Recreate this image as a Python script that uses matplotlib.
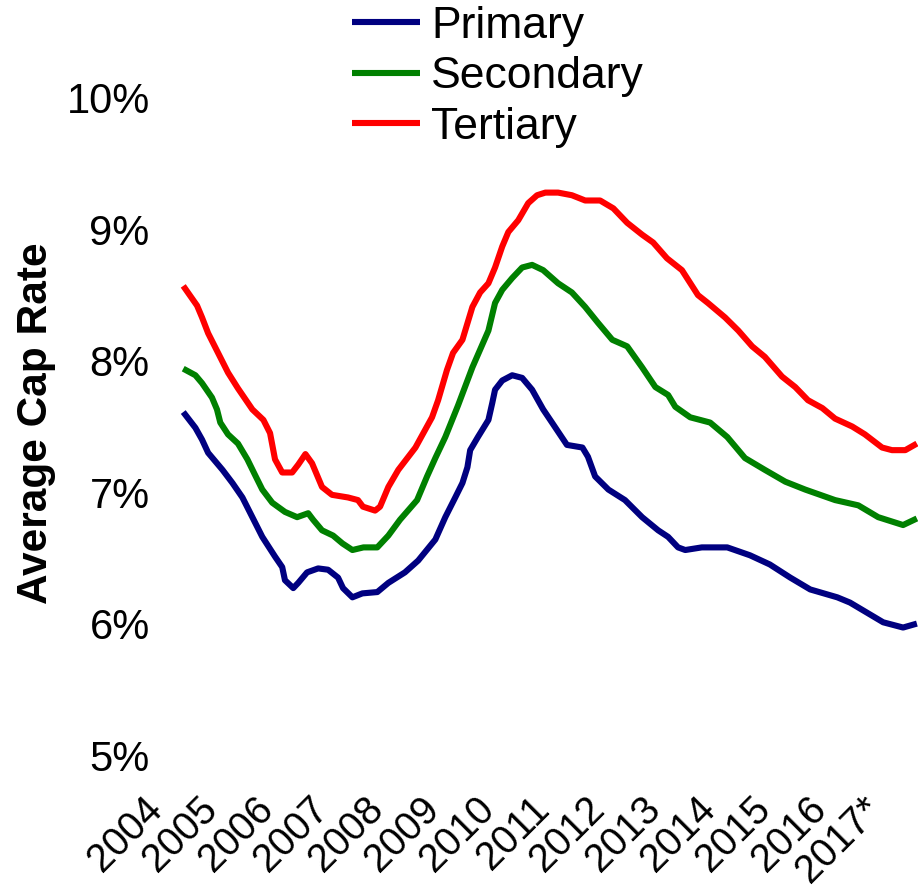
import matplotlib
matplotlib.use("Agg")
import matplotlib.pyplot as plt
from matplotlib.transforms import ScaledTranslation

plt.rcParams['font.family'] = ['Liberation Sans', 'DejaVu Sans']

# ---- data (fractional years, cap rate in %) ----
tertiary_t = [2004.33, 2004.58, 2004.67, 2004.78, 2004.96, 2005.14, 2005.32, 2005.58, 2005.78, 2005.90,
              2005.99, 2006.12, 2006.30, 2006.41, 2006.54, 2006.66, 2006.84, 2007.02, 2007.31, 2007.49,
              2007.58, 2007.80, 2007.89, 2008.04, 2008.22, 2008.53, 2008.83, 2008.94, 2009.10, 2009.21,
              2009.38, 2009.56, 2009.70, 2009.85, 2009.97, 2010.10, 2010.21, 2010.39, 2010.57, 2010.73,
              2010.88, 2011.11, 2011.36, 2011.60, 2011.87, 2012.11, 2012.36, 2012.63, 2012.83, 2013.08,
              2013.35, 2013.64, 2013.82, 2014.13, 2014.37, 2014.62, 2014.85, 2015.16, 2015.40, 2015.63,
              2015.89, 2016.12, 2016.43, 2016.66, 2016.97, 2017.15, 2017.39, 2017.60]
tertiary_v = [8.57, 8.42, 8.33, 8.21, 8.06, 7.91, 7.79, 7.63, 7.55, 7.45,
              7.25, 7.15, 7.15, 7.21, 7.29, 7.22, 7.04, 6.98, 6.96, 6.94,
              6.89, 6.86, 6.89, 7.04, 7.17, 7.34, 7.57, 7.70, 7.93, 8.06,
              8.16, 8.41, 8.52, 8.59, 8.71, 8.87, 8.98, 9.07, 9.20, 9.26,
              9.28, 9.28, 9.26, 9.22, 9.22, 9.16, 9.05, 8.96, 8.90, 8.78,
              8.69, 8.50, 8.44, 8.33, 8.23, 8.11, 8.03, 7.88, 7.80, 7.70,
              7.64, 7.56, 7.50, 7.44, 7.34, 7.32, 7.32, 7.37]

secondary_t = [2004.33, 2004.55, 2004.67, 2004.85, 2004.94, 2005.00, 2005.14, 2005.32, 2005.49, 2005.63,
               2005.76, 2005.94, 2006.17, 2006.39, 2006.59, 2006.68, 2006.84, 2007.04, 2007.21, 2007.39,
               2007.59, 2007.84, 2008.04, 2008.25, 2008.56, 2008.74, 2008.89, 2009.07, 2009.30, 2009.56,
               2009.85, 2009.97, 2010.10, 2010.28, 2010.46, 2010.64, 2010.84, 2011.11, 2011.36, 2011.60,
               2011.83, 2012.09, 2012.36, 2012.63, 2012.87, 2013.10, 2013.23, 2013.50, 2013.86, 2014.17,
               2014.49, 2014.85, 2015.22, 2015.58, 2016.12, 2016.54, 2016.90, 2017.35, 2017.60]
secondary_v = [7.94, 7.89, 7.83, 7.72, 7.63, 7.53, 7.44, 7.37, 7.25, 7.13,
               7.02, 6.92, 6.85, 6.81, 6.84, 6.79, 6.71, 6.67, 6.61, 6.56,
               6.58, 6.58, 6.67, 6.79, 6.94, 7.12, 7.26, 7.42, 7.66, 7.95,
               8.23, 8.44, 8.54, 8.63, 8.71, 8.73, 8.69, 8.59, 8.52, 8.41,
               8.29, 8.16, 8.11, 7.95, 7.80, 7.74, 7.65, 7.57, 7.53, 7.42,
               7.26, 7.17, 7.08, 7.02, 6.94, 6.90, 6.81, 6.75, 6.80]

primary_t = [2004.33, 2004.55, 2004.67, 2004.78, 2005.04, 2005.22, 2005.40, 2005.58, 2005.76, 2005.99,
             2006.12, 2006.17, 2006.32, 2006.41, 2006.57, 2006.77, 2006.95, 2007.13, 2007.22, 2007.39,
             2007.57, 2007.84, 2008.04, 2008.34, 2008.58, 2008.89, 2009.07, 2009.25, 2009.38, 2009.47,
             2009.52, 2009.66, 2009.85, 2009.92, 2009.97, 2010.10, 2010.28, 2010.46, 2010.64, 2010.84,
             2011.00, 2011.27, 2011.55, 2011.65, 2011.78, 2012.02, 2012.32, 2012.63, 2012.92, 2013.10,
             2013.28, 2013.41, 2013.71, 2013.95, 2014.17, 2014.58, 2014.94, 2015.31, 2015.67, 2016.16,
             2016.39, 2016.63, 2016.99, 2017.35, 2017.60]
primary_v = [7.61, 7.49, 7.40, 7.30, 7.17, 7.07, 6.96, 6.81, 6.66, 6.51,
             6.43, 6.33, 6.27, 6.31, 6.39, 6.42, 6.41, 6.35, 6.27, 6.20,
             6.23, 6.24, 6.31, 6.39, 6.48, 6.64, 6.81, 6.96, 7.07, 7.19,
             7.32, 7.42, 7.55, 7.68, 7.78, 7.85, 7.89, 7.87, 7.78, 7.63,
             7.53, 7.36, 7.34, 7.27, 7.12, 7.02, 6.94, 6.81, 6.71, 6.66,
             6.58, 6.56, 6.58, 6.58, 6.58, 6.52, 6.45, 6.35, 6.26, 6.20,
             6.16, 6.10, 6.01, 5.97, 6.00]

series_names = ['Primary', 'Secondary', 'Tertiary']
series_colors = ['#000080', '#008000', '#FF0000']

year_ticks = list(range(2004, 2018))
year_labels = [str(y) for y in range(2004, 2017)] + ['2017*']
y_ticks = [5, 6, 7, 8, 9, 10]
y_labels = ['5%', '6%', '7%', '8%', '9%', '10%']

# ---- figure ----
W, H = 918, 896
fig = plt.figure(figsize=(W / 100, H / 100), dpi=100)
ax_left, ax_right, ax_top, ax_bottom = 165, 918, 60, 780
ax = fig.add_axes([ax_left / W, (H - ax_bottom) / H, (ax_right - ax_left) / W, (ax_bottom - ax_top) / H])

px_per_pct = 131.4
y5_px = 755
ax.set_ylim(5 - (ax_bottom - y5_px) / px_per_pct, 5 + (y5_px - ax_top) / px_per_pct)
ax.set_xlim(2004.0, 2017.62)

for t, v, name, c in zip([primary_t, secondary_t, tertiary_t],
                         [primary_v, secondary_v, tertiary_v],
                         series_names, series_colors):
    ax.plot(t, v, color=c, lw=4.4, label=name, solid_joinstyle='round', solid_capstyle='butt',
            clip_on=False)

for s in ax.spines.values():
    s.set_visible(False)

ax.set_yticks(y_ticks)
ax.set_yticklabels(y_labels, fontsize=30)
ax.set_xticks(year_ticks)
ax.set_xticklabels(year_labels, fontsize=28.5, rotation=45, ha='right')
ax.tick_params(axis='both', length=0)
ax.tick_params(axis='y', pad=11)
ax.tick_params(axis='x', pad=7)
shift = ScaledTranslation(5 / 100, 0, fig.dpi_scale_trans)
for lab in ax.get_xticklabels():
    lab.set_transform(lab.get_transform() + shift)

fig.text(36 / W, 1 - 423 / H, 'Average Cap Rate', rotation=90, ha='center', va='center',
         fontsize=30.5, fontweight='bold')

handles, labels = ax.get_legend_handles_labels()
leg = fig.legend(handles, labels, loc='upper left', bbox_to_anchor=(352 / W, 1.0 - 6 / H),
                 frameon=False, fontsize=32, handlelength=1.53, handletextpad=0.25,
                 labelspacing=0.21, borderpad=0, borderaxespad=0)

fig.savefig('out.png', dpi=100)
